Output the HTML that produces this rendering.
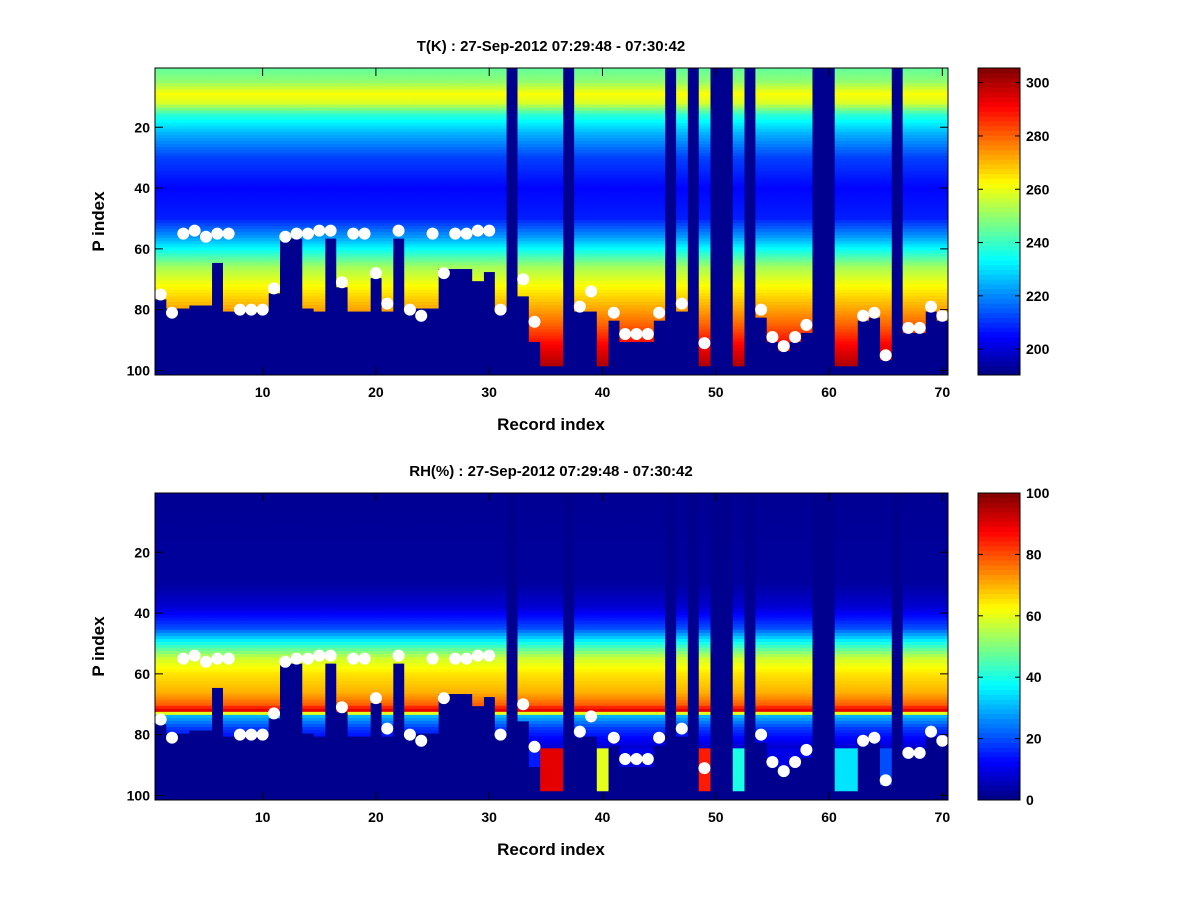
<!DOCTYPE html>
<html><head><meta charset="utf-8">
<style>
body{margin:0;background:#fff;}
svg text{font-family:"Liberation Sans",sans-serif;font-weight:bold;fill:#000;}
</style></head>
<body>
<svg id="chart" width="1200" height="900" xmlns="http://www.w3.org/2000/svg">
<rect width="1200" height="900" fill="#fff"/>
</svg>
<script>
// Per-record data (record 1..70). bottom = last valid P index (0 = empty column)
const records = Array.from({length:70},(_, i)=>i+1);
const bottoms = [76,79,79,78,78,64,80,80,80,80,74,56,56,79,80,56,72,80,80,69,80,56,79,79,79,66,66,66,70,67,80,0,75,90,98,98,0,80,80,98,83,90,90,90,83,0,80,0,98,0,0,98,0,82,90,93,90,87,0,0,98,98,83,82,96,0,87,87,80,83];
const markers = [75,81,55,54,56,55,55,80,80,80,73,56,55,55,54,54,71,55,55,68,78,54,80,82,55,68,55,55,54,54,80,null,70,84,null,null,null,79,74,null,81,88,88,88,81,null,78,null,91,null,null,null,null,80,89,92,89,85,null,null,null,null,82,81,95,null,86,86,79,82];
// Temperature vertical profile (K) at P index knots
const tKnotsP = [1,5,9,12,16,22,30,40,50,56,62,66,72,78,85,92,100];
const tKnotsV = [245,250,262,258,238,225,212,205,208,222,240,252,262,270,280,292,302];
// RH vertical profile (%) at P index knots
const rhKnotsP = [1,30,38,45,50,55,60,66,70,72,74,78,84,100];
const rhKnotsV = [2,3,8,20,40,58,65,70,78,90,30,18,8,5];
// RH value in deep rows per record
const rhDeep = [5,5,5,5,5,5,5,5,5,5,5,5,5,5,5,5,5,5,5,5,5,5,5,5,5,5,5,5,5,5,5,5,10,15,90,90,5,5,5,60,5,10,10,10,5,5,5,5,85,5,5,40,5,5,10,10,10,10,5,5,35,35,5,5,20,5,5,5,5,5];
const tTicks=[200,220,240,260,280,300], rhTicks=[0,20,40,60,80,100];
const yTicks=[20,40,60,80,100], xTicks=[10,20,30,40,50,60,70];

const NS="http://www.w3.org/2000/svg", svg=document.getElementById('chart');
function el(t,a,p){const e=document.createElementNS(NS,t);for(const k in a)e.setAttribute(k,a[k]);(p||svg).appendChild(e);return e;}
function interp(P,ks,vs){if(P<=ks[0])return vs[0];for(let i=1;i<ks.length;i++){if(P<=ks[i]){const f=(P-ks[i-1])/(ks[i]-ks[i-1]);return vs[i-1]+f*(vs[i]-vs[i-1]);}}return vs[vs.length-1];}
function jet(v){v=Math.max(0,Math.min(1,v));const c=x=>Math.round(255*Math.max(0,Math.min(1,x)));
 return `rgb(${c(1.5-Math.abs(4*v-3))},${c(1.5-Math.abs(4*v-2))},${c(1.5-Math.abs(4*v-1))})`;}
const X0=155,X1=948,NX=70;
const cw=(X1-X0)/NX;
const xs=r=>X0+(r-0.5)*cw; // center of record r

function panel(top,name,title,vmin,vmax,ticks,valFn){
 const Y0=top,Y1=top+307;
 const ch=(Y1-Y0)/101;
 const ys=p=>Y0+(p-0.5)*ch; // center of P index p
 const g=el('g',{});  
 el('rect',{x:X0,y:Y0,width:X1-X0,height:Y1-Y0,fill:'#00008f'},g);
 records.forEach((r,i)=>{
  for(let p=1;p<=101;p++){
   const v=valFn(i,p); if(v===null)continue;
   const c=el('rect',{x:(xs(r)-cw/2).toFixed(2),y:(ys(p)-ch/2).toFixed(2),width:(cw+0.4).toFixed(2),height:(ch+0.4).toFixed(2),fill:jet((v-vmin)/(vmax-vmin))},g);
   
   
  }
 });
 const mg=el('g',{});  
 records.forEach((r,i)=>{ if(markers[i]==null)return;
  const m=el('circle',{cx:xs(r),cy:ys(markers[i]),r:6,fill:'#fff'},mg);
  
  
 });
 const f=el('rect',{x:X0,y:Y0,width:X1-X0,height:Y1-Y0,fill:'none',stroke:'#000','stroke-width':1});
  
 yTicks.forEach(t=>{const y=ys(t);
  el('line',{x1:X0,x2:X0+8,y1:y,y2:y,stroke:'#000'});el('line',{x1:X1,x2:X1-8,y1:y,y2:y,stroke:'#000'});
  const tx=el('text',{x:X0-5,y:y+5,'text-anchor':'end','font-size':14});tx.textContent=t;
  });
 xTicks.forEach(t=>{const x=xs(t);
  el('line',{x1:x,x2:x,y1:Y1,y2:Y1-8,stroke:'#000'});el('line',{x1:x,x2:x,y1:Y0,y2:Y0+8,stroke:'#000'});
  const tx=el('text',{x:x,y:Y1+22,'text-anchor':'middle','font-size':14});tx.textContent=t;
  });
 const tt=el('text',{x:551,y:Y0-17,'text-anchor':'middle','font-size':15});tt.textContent=title;
 
 const xl=el('text',{x:551,y:Y1+55,'text-anchor':'middle','font-size':17});xl.textContent='Record index';
 
 const yl=el('text',{x:104,y:(Y0+Y1)/2,'text-anchor':'middle','font-size':17,transform:`rotate(-90 104 ${(Y0+Y1)/2})`});yl.textContent='P index';
 
 const CX0=978,CX1=1020;
 const cb=el('g',{});  
 const N=64;
 for(let k=0;k<N;k++){const h=(Y1-Y0)/N;
  el('rect',{x:CX0,y:(Y1-(k+1)*h).toFixed(2),width:CX1-CX0,height:(h+0.5).toFixed(2),fill:jet((k+0.5)/N)},cb);}
 el('rect',{x:CX0,y:Y0,width:CX1-CX0,height:Y1-Y0,fill:'none',stroke:'#000'},cb);
 ticks.forEach(t=>{const y=Y1-(t-vmin)/(vmax-vmin)*(Y1-Y0);
  el('line',{x1:CX0,x2:CX0+5,y1:y,y2:y,stroke:'#000'},cb);el('line',{x1:CX1,x2:CX1-5,y1:y,y2:y,stroke:'#000'},cb);
  const tx=el('text',{x:CX1+6,y:y+5,'font-size':14},cb);tx.textContent=t;
  });
}

panel(68,'temperature','T(K) : 27-Sep-2012 07:29:48 - 07:30:42',190.3,305.5,tTicks,(i,p)=>{
 const b=bottoms[i]; if(b===0||p>b)return null; return interp(p,tKnotsP,tKnotsV);});
panel(493,'humidity','RH(%) : 27-Sep-2012 07:29:48 - 07:30:42',0,100,rhTicks,(i,p)=>{
 const b=bottoms[i]; if(b===0||p>b)return null;
 if(p>84)return rhDeep[i];
 return interp(p,rhKnotsP,rhKnotsV);});
</script>
</body></html>
